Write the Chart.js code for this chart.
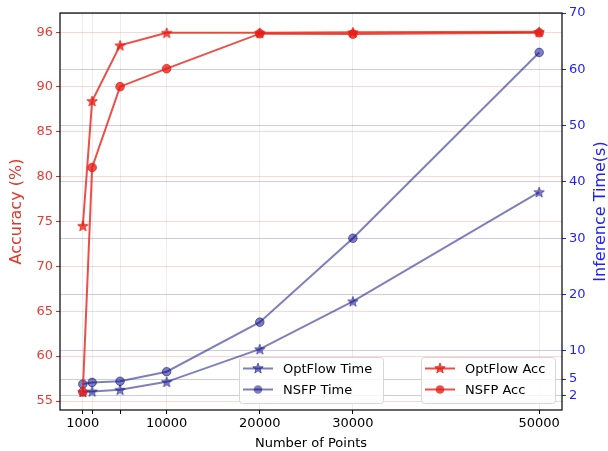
<!DOCTYPE html>
<html>
<head>
<meta charset="utf-8">
<script src="https://cdn.jsdelivr.net/npm/chart.js@4.4.0/dist/chart.umd.min.js"></script>
<style>
  body { margin: 0; background: #fff; }
</style>
</head>
<body>
<canvas id="grafico" width="608" height="451"></canvas>
<script>
// dados
const pontos = [1000, 2000, 5000, 10000, 20000, 30000, 50000];
const optflowAcc = [74.5, 88.4, 94.6, 96.0, 96.0, 96.05, 96.1];
const nsfpAcc = [56.0, 81.0, 90.0, 92.0, 95.9, 95.85, 96.0];
const optflowTempo = [2.7, 2.8, 3.1, 4.5, 10.3, 18.8, 38.2];
const nsfpTempo = [4.1, 4.4, 4.6, 6.3, 15.1, 30.0, 63.0];

const ticksX = [1000, 2000, 5000, 10000, 20000, 30000, 50000];
const rotulosX = [1000, 10000, 20000, 30000, 50000];
const ticksAcc = [55, 60, 65, 70, 75, 80, 85, 90, 96];
const ticksTempo = [2, 5, 10, 20, 30, 40, 50, 60, 70];

const FONTE = 'DejaVu Sans';
const VERMELHO = 'rgba(232, 30, 20, 0.78)';
const AZUL = 'rgba(0, 0, 128, 0.5)';
const AZUL_TEXTO = 'rgb(30,30,255)';

// estrela preenchida no estilo do matplotlib
function criarEstrela(cor, tamanho) {
    const c = document.createElement('canvas');
    c.width = tamanho; c.height = tamanho;
    const ctx = c.getContext('2d');
    const cx = tamanho / 2, cy = tamanho / 2 + 0.5;
    const rExt = tamanho / 2 - 0.5, rInt = rExt * 0.42;
    ctx.beginPath();
    for (let i = 0; i < 10; i++) {
        const r = i % 2 === 0 ? rExt : rInt;
        const a = -Math.PI / 2 + i * Math.PI / 5;
        ctx.lineTo(cx + r * Math.cos(a), cy + r * Math.sin(a));
    }
    ctx.closePath();
    ctx.fillStyle = cor;
    ctx.fill();
    ctx.strokeStyle = cor;
    ctx.lineWidth = 1;
    ctx.stroke();
    return c;
}

const estrelaAzul = criarEstrela(AZUL, 12);
const estrelaVermelha = criarEstrela(VERMELHO, 12);

const serie = (rotulo, valores, cor, marcador, eixo, ordem) => ({
    label: rotulo,
    data: pontos.map((p, i) => ({ x: p, y: valores[i] })),
    yAxisID: eixo,
    borderColor: cor,
    backgroundColor: cor,
    borderWidth: 2,
    pointStyle: marcador,
    pointRadius: marcador === 'circle' ? 4.3 : 6,
    pointBorderColor: cor,
    pointBackgroundColor: cor,
    pointBorderWidth: 1,
    order: ordem
});

// moldura, título do eixo direito e as duas legendas
const molduraPlugin = {
    id: 'moldura',
    afterDraw(chart) {
        const ctx = chart.ctx;
        const a = chart.chartArea;
        ctx.save();
        ctx.strokeStyle = '#000';
        ctx.lineWidth = 1.2;
        ctx.strokeRect(a.left, a.top, a.right - a.left, a.bottom - a.top);

        // título da direita lido de baixo para cima, como no matplotlib
        ctx.save();
        ctx.translate(601, (a.top + a.bottom) / 2);
        ctx.rotate(-Math.PI / 2);
        ctx.font = '16px ' + FONTE;
        ctx.fillStyle = AZUL_TEXTO;
        ctx.textAlign = 'center';
        ctx.textBaseline = 'middle';
        ctx.fillText('Inference Time(s)', 0, 0);
        ctx.restore();

        const caixas = [
            { x: 239, y: 357, w: 144, h: 46, itens: [0, 1] },
            { x: 421, y: 357, w: 134, h: 46, itens: [2, 3] }
        ];
        ctx.font = '13px ' + FONTE;
        ctx.textBaseline = 'middle';
        caixas.forEach(cx => {
            ctx.fillStyle = 'rgba(255,255,255,0.8)';
            ctx.strokeStyle = '#d6d6d6';
            ctx.lineWidth = 1;
            ctx.beginPath();
            ctx.roundRect(cx.x + 0.5, cx.y + 0.5, cx.w, cx.h, 3);
            ctx.fill();
            ctx.stroke();
            cx.itens.forEach((idx, k) => {
                const ds = chart.data.datasets[idx];
                const yy = cx.y + 11.5 + k * 21;
                const x0 = cx.x + 4;
                ctx.strokeStyle = ds.borderColor;
                ctx.lineWidth = 2;
                ctx.beginPath();
                ctx.moveTo(x0, yy);
                ctx.lineTo(x0 + 30, yy);
                ctx.stroke();
                if (ds.pointStyle === 'circle') {
                    ctx.fillStyle = ds.pointBackgroundColor;
                    ctx.beginPath();
                    ctx.arc(x0 + 15, yy, 4.3, 0, Math.PI * 2);
                    ctx.fill();
                } else {
                    ctx.drawImage(ds.pointStyle, x0 + 9, yy - 6.5);
                }
                ctx.fillStyle = '#000';
                ctx.fillText(ds.label, x0 + 40, yy + 1);
            });
        });
        ctx.restore();
    }
};

new Chart(document.getElementById('grafico'), {
    type: 'line',
    data: {
        datasets: [
            serie('OptFlow Time', optflowTempo, AZUL, estrelaAzul, 'y1', 4),
            serie('NSFP Time', nsfpTempo, AZUL, 'circle', 'y1', 3),
            serie('OptFlow Acc', optflowAcc, VERMELHO, estrelaVermelha, 'y', 2),
            serie('NSFP Acc', nsfpAcc, VERMELHO, 'circle', 'y', 1)
        ]
    },
    options: {
        responsive: false,
        animation: false,
        layout: { padding: { top: 13, left: 0, right: 0, bottom: 0 } },
        plugins: {
            legend: { display: false },
            tooltip: { enabled: false }
        },
        scales: {
            x: {
                type: 'linear',
                min: -1450,
                max: 52450,
                afterBuildTicks: (eixo) => { eixo.ticks = ticksX.map(v => ({ value: v })); },
                afterFit: (eixo) => { eixo.height = 41; },
                ticks: {
                    autoSkip: false,
                    maxRotation: 0,
                    padding: 2,
                    color: '#000',
                    font: { family: FONTE, size: 13 },
                    callback: (v) => rotulosX.includes(v) ? String(v) : ''
                },
                grid: { color: 'rgba(0,0,0,0.07)', tickColor: '#000', tickLength: 4 },
                border: { display: false },
                title: {
                    display: true,
                    text: 'Number of Points',
                    color: '#000',
                    font: { family: FONTE, size: 13 },
                    padding: { top: 0, bottom: 0 }
                }
            },
            y: {
                position: 'left',
                min: 54,
                max: 98.2,
                afterBuildTicks: (eixo) => { eixo.ticks = ticksAcc.map(v => ({ value: v })); },
                afterFit: (eixo) => { eixo.width = 60; },
                ticks: {
                    padding: 3,
                    color: 'rgb(232,60,50)',
                    font: { family: FONTE, size: 13 }
                },
                grid: { color: 'rgba(232,40,30,0.18)', tickColor: 'rgb(232,40,30)', tickLength: 4 },
                border: { display: false },
                title: {
                    display: true,
                    text: 'Accuracy (%)',
                    color: 'rgb(232,50,40)',
                    font: { family: FONTE, size: 16 },
                    padding: { top: 7, bottom: 0 }
                }
            },
            y1: {
                position: 'right',
                min: -0.5,
                max: 70,
                afterBuildTicks: (eixo) => { eixo.ticks = ticksTempo.map(v => ({ value: v })); },
                afterFit: (eixo) => { eixo.width = 46; },
                ticks: {
                    padding: 3,
                    color: AZUL_TEXTO,
                    font: { family: FONTE, size: 13 }
                },
                grid: { color: 'rgba(0,0,128,0.2)', tickColor: AZUL_TEXTO, tickLength: 4 },
                border: { display: false },
                title: { display: false }
            }
        }
    },
    plugins: [molduraPlugin]
});
</script>
</body>
</html>
